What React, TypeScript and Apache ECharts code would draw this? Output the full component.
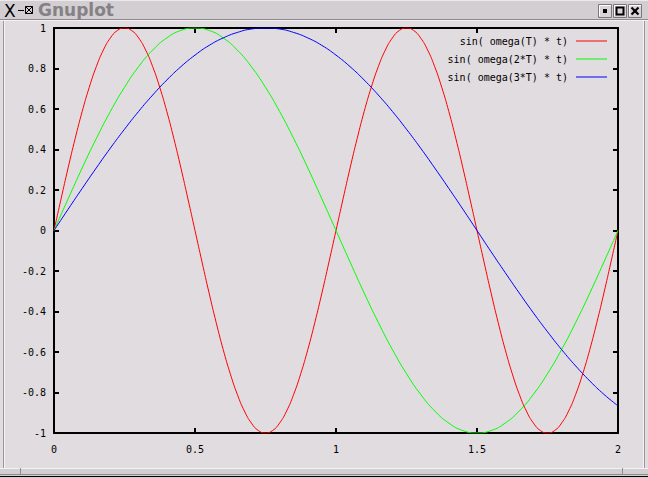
import React, { useEffect, useRef } from "react";
import * as echarts from "echarts";

const tValues = [
  0, 0.05, 0.1, 0.15, 0.2, 0.25, 0.3, 0.35, 0.4, 0.45,
  0.5, 0.55, 0.6, 0.65, 0.7, 0.75, 0.8, 0.85, 0.9, 0.95,
  1, 1.05, 1.1, 1.15, 1.2, 1.25, 1.3, 1.35, 1.4, 1.45,
  1.5, 1.55, 1.6, 1.65, 1.7, 1.75, 1.8, 1.85, 1.9, 1.95, 2,
];

const tValuesFine = [
  0, 0.025, 0.05, 0.075, 0.1, 0.125, 0.15, 0.175, 0.2, 0.225,
  0.25, 0.275, 0.3, 0.325, 0.35, 0.375, 0.4, 0.425, 0.45, 0.475,
  0.5, 0.525, 0.55, 0.575, 0.6, 0.625, 0.65, 0.675, 0.7, 0.725,
  0.75, 0.775, 0.8, 0.825, 0.85, 0.875, 0.9, 0.925, 0.95, 0.975,
  1, 1.025, 1.05, 1.075, 1.1, 1.125, 1.15, 1.175, 1.2, 1.225,
  1.25, 1.275, 1.3, 1.325, 1.35, 1.375, 1.4, 1.425, 1.45, 1.475,
  1.5, 1.525, 1.55, 1.575, 1.6, 1.625, 1.65, 1.675, 1.7, 1.725,
  1.75, 1.775, 1.8, 1.825, 1.85, 1.875, 1.9, 1.925, 1.95, 1.975, 2,
];

const redValues = [
  0, 0.156, 0.309, 0.454, 0.588, 0.707, 0.809, 0.891, 0.951, 0.988,
  1, 0.988, 0.951, 0.891, 0.809, 0.707, 0.588, 0.454, 0.309, 0.156,
  0, -0.156, -0.309, -0.454, -0.588, -0.707, -0.809, -0.891, -0.951, -0.988,
  -1, -0.988, -0.951, -0.891, -0.809, -0.707, -0.588, -0.454, -0.309, -0.156,
  0, 0.156, 0.309, 0.454, 0.588, 0.707, 0.809, 0.891, 0.951, 0.988,
  1, 0.988, 0.951, 0.891, 0.809, 0.707, 0.588, 0.454, 0.309, 0.156,
  0, -0.156, -0.309, -0.454, -0.588, -0.707, -0.809, -0.891, -0.951, -0.988,
  -1, -0.988, -0.951, -0.891, -0.809, -0.707, -0.588, -0.454, -0.309, -0.156, 0,
];

const greenValues = [
  0, 0.156, 0.309, 0.454, 0.588, 0.707, 0.809, 0.891, 0.951, 0.988,
  1, 0.988, 0.951, 0.891, 0.809, 0.707, 0.588, 0.454, 0.309, 0.156,
  0, -0.156, -0.309, -0.454, -0.588, -0.707, -0.809, -0.891, -0.951, -0.988,
  -1, -0.988, -0.951, -0.891, -0.809, -0.707, -0.588, -0.454, -0.309, -0.156, 0,
];

const blueValues = [
  0, 0.105, 0.208, 0.309, 0.407, 0.5, 0.588, 0.669, 0.743, 0.809,
  0.866, 0.914, 0.951, 0.978, 0.995, 1, 0.995, 0.978, 0.951, 0.914,
  0.866, 0.809, 0.743, 0.669, 0.588, 0.5, 0.407, 0.309, 0.208, 0.105,
  0, -0.105, -0.208, -0.309, -0.407, -0.5, -0.588, -0.669, -0.743, -0.809, -0.866,
];

const seriesNames = ["sin( omega(T) * t)", "sin( omega(2*T) * t)", "sin( omega(3*T) * t)"];
const seriesColors = ["#ff0000", "#00ff00", "#0000ff"];
const seriesValues = [redValues, greenValues, blueValues];
const seriesT = [tValuesFine, tValues, tValues];

const BG = "#e0dcdf";
const FONT = "'DejaVu Sans Mono', 'Liberation Mono', monospace";

function windowChrome(): any[] {
  const els: any[] = [];
  els.push({ type: "rect", shape: { x: 0, y: 0, width: 648, height: 19 }, style: { fill: "#d2ced2" }, z: 0 });
  els.push({ type: "line", shape: { x1: 0, y1: 0.5, x2: 648, y2: 0.5 }, style: { stroke: "#ece8ec", lineWidth: 1 }, z: 1 });
  els.push({ type: "line", shape: { x1: 0, y1: 19.5, x2: 648, y2: 19.5 }, style: { stroke: "#8e8a8e", lineWidth: 1 }, z: 1 });
  els.push({ type: "line", shape: { x1: 0, y1: 20.5, x2: 648, y2: 20.5 }, style: { stroke: "#f4f0f4", lineWidth: 1 }, z: 1 });
  els.push({ type: "text", x: 4, y: 2, style: { text: "X", font: "17px 'DejaVu Sans'", fill: "#000" }, z: 2 });
  els.push({ type: "line", shape: { x1: 18, y1: 10.5, x2: 24, y2: 10.5 }, style: { stroke: "#000", lineWidth: 1 }, z: 2 });
  els.push({ type: "rect", shape: { x: 25.5, y: 6.5, width: 7, height: 7 }, style: { fill: "none", stroke: "#000", lineWidth: 1 }, z: 2 });
  els.push({ type: "line", shape: { x1: 25.5, y1: 6.5, x2: 32.5, y2: 13.5 }, style: { stroke: "#000", lineWidth: 1 }, z: 2 });
  els.push({ type: "line", shape: { x1: 32.5, y1: 6.5, x2: 25.5, y2: 13.5 }, style: { stroke: "#000", lineWidth: 1 }, z: 2 });
  els.push({ type: "text", x: 38, y: 1, style: { text: "Gnuplot", font: "bold 17px 'DejaVu Sans'", fill: "#858185" }, z: 2 });
  const bx = [598, 613, 628];
  bx.forEach((x, i) => {
    els.push({ type: "rect", shape: { x: x + 0.5, y: 4.5, width: 13, height: 13 }, style: { fill: "#d8d4d8", stroke: "#7a767a", lineWidth: 1 }, z: 2 });
    els.push({ type: "polyline", shape: { points: [[x + 1.5, 16], [x + 1.5, 5.5], [x + 13, 5.5]] }, style: { stroke: "#ffffff", lineWidth: 1, fill: "none" }, z: 3 });
    if (i === 0) {
      els.push({ type: "rect", shape: { x: x + 5, y: 9, width: 4, height: 4 }, style: { fill: "#000" }, z: 3 });
    } else if (i === 1) {
      els.push({ type: "rect", shape: { x: x + 3.5, y: 7.5, width: 7, height: 7 }, style: { fill: "none", stroke: "#000", lineWidth: 2 }, z: 3 });
    } else {
      els.push({ type: "line", shape: { x1: x + 3.5, y1: 7.5, x2: x + 10.5, y2: 14.5 }, style: { stroke: "#000", lineWidth: 2.2 }, z: 3 });
      els.push({ type: "line", shape: { x1: x + 10.5, y1: 7.5, x2: x + 3.5, y2: 14.5 }, style: { stroke: "#000", lineWidth: 2.2 }, z: 3 });
    }
  });
  els.push({ type: "line", shape: { x1: 3.5, y1: 21, x2: 3.5, y2: 468 }, style: { stroke: "#9a969a", lineWidth: 1 }, z: 1 });
  els.push({ type: "line", shape: { x1: 4.5, y1: 21, x2: 4.5, y2: 468 }, style: { stroke: "#f4f0f4", lineWidth: 1 }, z: 1 });
  els.push({ type: "line", shape: { x1: 643.5, y1: 21, x2: 643.5, y2: 468 }, style: { stroke: "#f4f0f4", lineWidth: 1 }, z: 1 });
  els.push({ type: "line", shape: { x1: 644.5, y1: 21, x2: 644.5, y2: 468 }, style: { stroke: "#9a969a", lineWidth: 1 }, z: 1 });
  els.push({ type: "rect", shape: { x: 0, y: 468, width: 648, height: 10 }, style: { fill: "#d2ced2" }, z: 0 });
  els.push({ type: "line", shape: { x1: 0, y1: 468.5, x2: 648, y2: 468.5 }, style: { stroke: "#f4f0f4", lineWidth: 1 }, z: 1 });
  els.push({ type: "line", shape: { x1: 0, y1: 474.5, x2: 648, y2: 474.5 }, style: { stroke: "#8e8a8e", lineWidth: 1 }, z: 1 });
  els.push({ type: "line", shape: { x1: 0, y1: 476.5, x2: 648, y2: 476.5 }, style: { stroke: "#000", lineWidth: 1 }, z: 1 });
  els.push({ type: "line", shape: { x1: 20.5, y1: 468, x2: 20.5, y2: 475 }, style: { stroke: "#8e8a8e", lineWidth: 1 }, z: 1 });
  els.push({ type: "line", shape: { x1: 622.5, y1: 468, x2: 622.5, y2: 475 }, style: { stroke: "#8e8a8e", lineWidth: 1 }, z: 1 });
  return els;
}

export default function App() {
  const ref = useRef<HTMLDivElement>(null);
  useEffect(() => {
    if (!ref.current) return;
    const chart = echarts.init(ref.current, undefined, { renderer: "svg" });
    const axisLabel = { color: "#000", fontFamily: FONT, fontSize: 10 };
    const mkTick = () => ({ show: true, inside: true, length: 5, lineStyle: { color: "#000", width: 2 } });
    const mkLine = () => ({ show: true, onZero: false, lineStyle: { color: "#000", width: 2 } });
    const legendTops = [35, 53, 71];
    chart.setOption({
      animation: false,
      backgroundColor: BG,
      grid: {
        left: 54, right: 30, top: 28, bottom: 45,
        show: false,
      },
      xAxis: [
        {
          type: "value", min: 0, max: 2, interval: 0.5, position: "bottom",
          axisLine: mkLine(), axisTick: mkTick(), splitLine: { show: false },
          axisLabel: { ...axisLabel, margin: 11 },
        },
        {
          type: "value", min: 0, max: 2, interval: 0.5, position: "top",
          axisLine: mkLine(), axisTick: mkTick(), splitLine: { show: false },
          axisLabel: { show: false },
        },
      ],
      yAxis: [
        {
          type: "value", min: -1, max: 1, interval: 0.2, position: "left",
          axisLine: mkLine(), axisTick: mkTick(), splitLine: { show: false },
          axisLabel: { ...axisLabel, margin: 8 },
        },
        {
          type: "value", min: -1, max: 1, interval: 0.2, position: "right",
          axisLine: mkLine(), axisTick: mkTick(), splitLine: { show: false },
          axisLabel: { show: false },
        },
      ],
      legend: seriesNames.map((name, i) => ({
        data: [name],
        right: 41,
        top: legendTops[i],
        orient: "vertical",
        align: "right",
        padding: 0,
        icon: "rect",
        itemWidth: 31,
        itemHeight: 1,
        textStyle: { color: "#000", fontFamily: FONT, fontSize: 10, lineHeight: 12, padding: [0, 3, 0, 0] },
      })),
      series: seriesNames.map((name, i) => ({
        name,
        type: "line",
        xAxisIndex: 0,
        yAxisIndex: 0,
        data: seriesT[i].map((t, k) => [t, seriesValues[i][k]]),
        smooth: true,
        showSymbol: false,
        symbol: "none",
        color: seriesColors[i],
        lineStyle: { color: seriesColors[i], width: 1 },
        clip: true,
      })),
      graphic: windowChrome(),
    });
    return () => chart.dispose();
  }, []);
  return <div ref={ref} style={{ position: "fixed", left: 0, top: 0, width: 648, height: 478 }} />;
}
